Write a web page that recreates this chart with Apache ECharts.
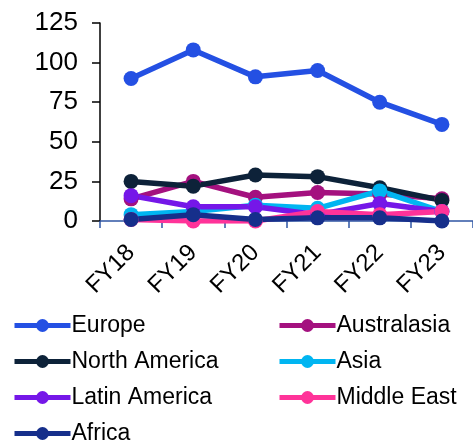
<!DOCTYPE html>
<html>
<head>
<meta charset="utf-8">
<script src="https://cdn.jsdelivr.net/npm/echarts@6/dist/echarts.min.js"></script>
<style>
  html, body { margin: 0; padding: 0; background: #fff; }
  #chart { width: 473px; height: 443px; }
</style>
</head>
<body>
<div id="chart"></div>
<script>
// Fiscal years on the category axis
const categories = ['FY18', 'FY19', 'FY20', 'FY21', 'FY22', 'FY23'];
const yTicks = [0, 25, 50, 75, 100, 125];

// Regional values per fiscal year
const europe       = [90, 108, 91, 95, 75, 61];
const australasia  = [14, 25, 15, 18, 17, 14];
const northAmerica = [25, 22, 29, 28, 21, 13];
const asia         = [4, 6, 10, 8, 19, 6];
const latinAmerica = [16, 9, 9, 4, 11, 6];
const middleEast   = [1, 0, 0, 6, 4, 6];
const africa       = [1, 4, 1, 2, 2, 0];

const seriesDefs = [
  { name: 'Europe',        data: europe,       color: '#2450E3' },
  { name: 'Australasia',   data: australasia,  color: '#A4117F' },
  { name: 'North America', data: northAmerica, color: '#0D2239' },
  { name: 'Asia',          data: asia,         color: '#00B5F1' },
  { name: 'Latin America', data: latinAmerica, color: '#7517E8' },
  { name: 'Middle East',   data: middleEast,   color: '#FF3399' },
  { name: 'Africa',        data: africa,       color: '#162F8B' }
];

// Legend grid: two columns, four rows
const legendLayout = [
  { name: 'Europe',        col: 0, row: 0 },
  { name: 'Australasia',   col: 1, row: 0 },
  { name: 'North America', col: 0, row: 1 },
  { name: 'Asia',          col: 1, row: 1 },
  { name: 'Latin America', col: 0, row: 2 },
  { name: 'Middle East',   col: 1, row: 2 },
  { name: 'Africa',        col: 0, row: 3 }
];
const legendCols = [12, 277];
const legendTop = 314;
const legendRowStep = 36;

const FONT = 'Liberation Sans, Arial, sans-serif';

const chart = echarts.init(document.getElementById('chart'), null, { renderer: 'canvas' });
chart.setOption({
  animation: false,
  backgroundColor: '#fff',
  grid: { left: 100, top: 23, right: -9, bottom: 222, containLabel: false },
  legend: legendLayout.map(l => ({
    left: legendCols[l.col],
    top: legendTop + l.row * legendRowStep,
    data: [l.name],
    itemWidth: 56,
    itemHeight: 16,
    padding: 0,
    lineStyle: { width: 5 },
    textStyle: { fontFamily: FONT, fontSize: 23, color: '#000', padding: [0, 0, 0, -4] }
  })),
  xAxis: {
    type: 'category',
    data: categories,
    boundaryGap: true,
    axisLine: { lineStyle: { color: '#2F55A4', width: 1.5 } },
    axisTick: { show: true, length: 7, lineStyle: { color: '#2F55A4', width: 1.5 } },
    axisLabel: {
      rotate: 45,
      fontFamily: FONT,
      fontSize: 24,
      color: '#000',
      margin: 28
    },
    splitLine: { show: false }
  },
  yAxis: {
    type: 'value',
    min: yTicks[0],
    max: yTicks[yTicks.length - 1],
    interval: yTicks[1] - yTicks[0],
    axisLine: { show: true, lineStyle: { color: '#000', width: 1.5 } },
    axisTick: { show: true, length: 8, lineStyle: { color: '#000', width: 1.5 } },
    axisLabel: { fontFamily: FONT, fontSize: 26, color: '#000', margin: 22 },
    splitLine: { show: false }
  },
  series: seriesDefs.map(s => ({
    name: s.name,
    type: 'line',
    data: s.data,
    symbol: 'circle',
    symbolSize: 15,
    showAllSymbol: true,
    lineStyle: { color: s.color, width: 5.5 },
    itemStyle: { color: s.color },
    emphasis: { disabled: true }
  }))
});
</script>
</body>
</html>
